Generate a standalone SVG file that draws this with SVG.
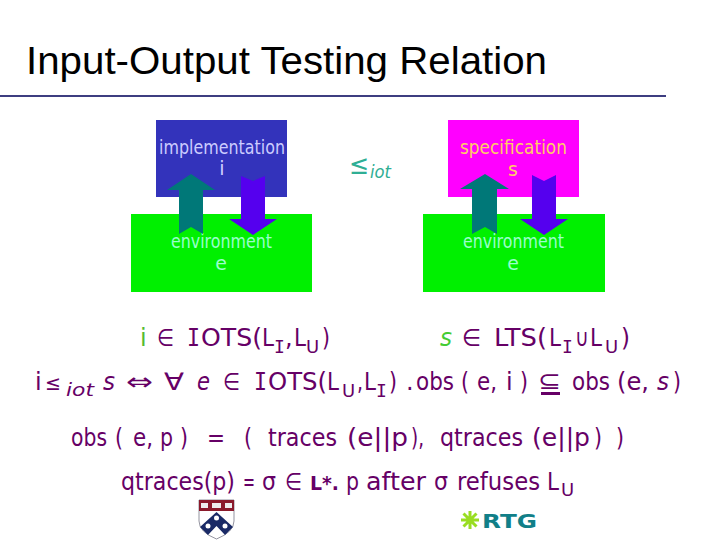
<svg xmlns="http://www.w3.org/2000/svg" width="720" height="540" viewBox="0 0 720 540">
<style>
text{font-family:"DejaVu Sans",sans-serif}
.t{fill:#660066;font-size:24px}
.s{font-size:18px;fill:#660066}
.mono{font-family:"DejaVu Sans Mono",monospace}
.i{font-style:italic}
.b{font-size:19px}
.up{fill:#007878}
.dn{fill:#5500ee}
</style>
<rect width="720" height="540" fill="#fff"/>
<text x="26" y="74" style="font-family:'Liberation Sans',sans-serif;font-size:38px;fill:#000" textLength="521" lengthAdjust="spacingAndGlyphs">Input-Output Testing Relation</text>
<rect x="0" y="95" width="666" height="2" fill="#3d3d80"/>
<g id="implementation">
<rect x="156" y="120" width="131" height="77" fill="#3333bb"/>
<text class="b" x="159" y="154" fill="#ccccff" textLength="126" lengthAdjust="spacingAndGlyphs">implementation</text>
<text class="b" x="222" y="175" text-anchor="middle" fill="#ccccff">i</text>
</g>
<g id="environment1">
<rect x="131" y="214" width="181" height="78" fill="#00f000"/>
<text class="b" x="171" y="248" fill="#99ffcc" textLength="101" lengthAdjust="spacingAndGlyphs">environment</text>
<text class="b" x="221" y="270" text-anchor="middle" fill="#99ffcc">e</text>
</g>
<g id="relation">
<text x="349" y="174" style="font-size:27px;fill:#2fae94" textLength="20" lengthAdjust="spacingAndGlyphs">≤</text>
<text x="370" y="178" class="i" style="font-size:18px;fill:#2fae94" textLength="21" lengthAdjust="spacingAndGlyphs">iot</text>
</g>
<g id="specification">
<rect x="448" y="120" width="131" height="77" fill="#ff00ff"/>
<text class="b" x="460" y="154" fill="#ffcc66" textLength="107" lengthAdjust="spacingAndGlyphs">specification</text>
<text class="b" x="513" y="176" text-anchor="middle" fill="#ffcc66">s</text>
</g>
<g id="environment2">
<rect x="423" y="214" width="182" height="78" fill="#00f000"/>
<text class="b" x="463" y="248" fill="#99ffcc" textLength="101" lengthAdjust="spacingAndGlyphs">environment</text>
<text class="b" x="513" y="270" text-anchor="middle" fill="#99ffcc">e</text>
</g>
<g id="connectors">
<polygon class="up" points="191,174 215,190 203,190 203,234 191,227 179,234 179,190 167,190"/>
<polygon class="dn" points="241,176 253,181 265,176 265,219 277,219 253,235 229,219 241,219"/>
<polygon class="up" points="485,174 509,189 497,189 497,234 485,227 472,234 472,189 460,189"/>
<polygon class="dn" points="532,175 544,181 556,175 556,219 568,219 544,235 520,219 532,219"/>
</g>
<g id="formulas">
<text x="140" y="346" style="font-size:24px;fill:#55bb33">i</text>
<text class="t" x="157" y="346" textLength="17" lengthAdjust="spacingAndGlyphs">∈</text>
<text class="t mono" x="187" y="346" textLength="13" lengthAdjust="spacingAndGlyphs">I</text>
<text class="t" x="201" y="346" textLength="61" lengthAdjust="spacingAndGlyphs">OTS(</text>
<text class="t" x="262" y="346" textLength="12" lengthAdjust="spacingAndGlyphs">L</text><text class="s mono" x="274" y="353">I</text>
<text class="t" x="285" y="346">,</text><text class="t" x="294" y="346" textLength="12" lengthAdjust="spacingAndGlyphs">L</text><text class="s" x="306" y="353">U</text>
<text class="t" x="322" y="346" textLength="8" lengthAdjust="spacingAndGlyphs">)</text>

<text class="i" x="440" y="346" style="font-size:24px;fill:#44cc33" textLength="12" lengthAdjust="spacingAndGlyphs">s</text>
<text class="t" x="462" y="346" textLength="19" lengthAdjust="spacingAndGlyphs">∈</text>
<text class="t" x="494" y="346" textLength="53" lengthAdjust="spacingAndGlyphs">LTS(</text>
<text class="t" x="549" y="346" textLength="12" lengthAdjust="spacingAndGlyphs">L</text><text class="s mono" x="562" y="353">I</text>
<text class="t" x="575" y="346" textLength="14" lengthAdjust="spacingAndGlyphs">∪</text>
<text class="t" x="590" y="346" textLength="12" lengthAdjust="spacingAndGlyphs">L</text><text class="s" x="605" y="353">U</text>
<text class="t" x="621" y="346" textLength="9" lengthAdjust="spacingAndGlyphs">)</text>

<text class="t" x="35" y="390">i</text>
<text class="t" x="45" y="390" style="font-size:20px" textLength="16" lengthAdjust="spacingAndGlyphs">≤</text>
<text class="s i" x="66" y="396" textLength="28" lengthAdjust="spacingAndGlyphs">iot</text>
<text class="t i" x="103" y="390" textLength="12" lengthAdjust="spacingAndGlyphs">s</text>
<text class="t" x="126" y="390" textLength="27" lengthAdjust="spacingAndGlyphs">⇔</text>
<text class="t" x="164" y="390" textLength="20" lengthAdjust="spacingAndGlyphs">∀</text>
<text class="t i" x="197" y="390" textLength="13" lengthAdjust="spacingAndGlyphs">e</text>
<text class="t" x="223" y="390" textLength="17" lengthAdjust="spacingAndGlyphs">∈</text>
<text class="t mono" x="254" y="390" textLength="13" lengthAdjust="spacingAndGlyphs">I</text>
<text class="t" x="268" y="390" textLength="59" lengthAdjust="spacingAndGlyphs">OTS(</text>
<text class="t" x="327" y="390" textLength="12" lengthAdjust="spacingAndGlyphs">L</text><text class="s" x="342" y="397">U</text>
<text class="t" x="357" y="390" textLength="6" lengthAdjust="spacingAndGlyphs">,</text><text class="t" x="364" y="390" textLength="12" lengthAdjust="spacingAndGlyphs">L</text><text class="s mono" x="376" y="397">I</text>
<text class="t" x="389" y="390" textLength="8" lengthAdjust="spacingAndGlyphs">)</text>
<text class="t" x="406" y="390">.</text>
<text class="t" x="416" y="390" textLength="38" lengthAdjust="spacingAndGlyphs">obs</text>
<text class="t" x="461" y="390" textLength="8" lengthAdjust="spacingAndGlyphs">(</text>
<text class="t" x="477" y="390" textLength="20" lengthAdjust="spacingAndGlyphs">e,</text>
<text class="t" x="506" y="390">i</text>
<text class="t" x="520" y="390" textLength="8" lengthAdjust="spacingAndGlyphs">)</text>
<text class="t" x="538" y="389" textLength="23" lengthAdjust="spacingAndGlyphs">⊆</text>
<rect x="541" y="392" width="19" height="3" fill="#660066"/>
<text class="t" x="572" y="390" textLength="38" lengthAdjust="spacingAndGlyphs">obs</text>
<text class="t" x="617" y="390" textLength="32" lengthAdjust="spacingAndGlyphs">(e,</text>
<text class="t i" x="657" y="390" textLength="12" lengthAdjust="spacingAndGlyphs">s</text>
<text class="t" x="673" y="390" textLength="8" lengthAdjust="spacingAndGlyphs">)</text>

<text class="t" x="71" y="446" textLength="36" lengthAdjust="spacingAndGlyphs">obs</text>
<text class="t" x="115" y="446" textLength="8" lengthAdjust="spacingAndGlyphs">(</text>
<text class="t" x="133" y="446" textLength="20" lengthAdjust="spacingAndGlyphs">e,</text>
<text class="t" x="160" y="446" textLength="13" lengthAdjust="spacingAndGlyphs">p</text>
<text class="t" x="180" y="446" textLength="8" lengthAdjust="spacingAndGlyphs">)</text>
<text class="t" x="207" y="446" textLength="18" lengthAdjust="spacingAndGlyphs">=</text>
<text class="t" x="244" y="446" textLength="8" lengthAdjust="spacingAndGlyphs">(</text>
<text class="t" x="268" y="446" textLength="69" lengthAdjust="spacingAndGlyphs">traces</text>
<text class="t" x="347" y="446" textLength="61" lengthAdjust="spacingAndGlyphs">(e||p</text>
<text class="t" x="411" y="446" textLength="13" lengthAdjust="spacingAndGlyphs">),</text>
<text class="t" x="440" y="446" textLength="83" lengthAdjust="spacingAndGlyphs">qtraces</text>
<text class="t" x="532" y="446" textLength="58" lengthAdjust="spacingAndGlyphs">(e||p</text>
<text class="t" x="594" y="446" textLength="8" lengthAdjust="spacingAndGlyphs">)</text>
<text class="t" x="616" y="446" textLength="8" lengthAdjust="spacingAndGlyphs">)</text>

<text class="t" x="121" y="490" textLength="114" lengthAdjust="spacingAndGlyphs">qtraces(p)</text>
<text class="t" x="243" y="490" textLength="12" lengthAdjust="spacingAndGlyphs">=</text>
<text class="t" x="262" y="490" textLength="14" lengthAdjust="spacingAndGlyphs">σ</text>
<text class="t" x="285" y="490" textLength="17" lengthAdjust="spacingAndGlyphs">∈</text>
<text class="t" x="310" y="490" style="font-size:20px;font-weight:bold" textLength="29" lengthAdjust="spacingAndGlyphs">L*.</text>
<text class="t" x="346" y="490" textLength="13" lengthAdjust="spacingAndGlyphs">p</text>
<text class="t" x="366" y="490" textLength="60" lengthAdjust="spacingAndGlyphs">after</text>
<text class="t" x="434" y="490" textLength="14" lengthAdjust="spacingAndGlyphs">σ</text>
<text class="t" x="457" y="490" textLength="83" lengthAdjust="spacingAndGlyphs">refuses</text>
<text class="t" x="547" y="490" textLength="12" lengthAdjust="spacingAndGlyphs">L</text><text class="s" x="561" y="496">U</text>
</g>
<g id="penn-logo">
<path d="M199,500H234V521Q234,532 216.500,539Q199,532 199,521Z" fill="#fff" stroke="#667" stroke-width=".7"/>
<rect x="199" y="500" width="35" height="11" fill="#8b1a2b"/>
<g fill="#eee"><rect x="201" y="503" width="7" height="5"/><rect x="212" y="503" width="9" height="5"/><rect x="225" y="503" width="7" height="5"/></g>
<path d="M216.500,512L200,527L208,535L216.500,526L225,535L233,527Z" fill="#1a2a66"/>
<g fill="#fff"><circle cx="216.500" cy="518" r="2.500"/><circle cx="208" cy="526" r="2.500"/><circle cx="225" cy="526" r="2.500"/></g>
</g>
<g id="rtg-logo">
<path d="M470,511V529M461,520H479M463.500,513.500L476.500,526.500M476.500,513.500L463.500,526.500" stroke="#99dd22" stroke-width="3"/>
<text x="482" y="528" style="font-weight:bold;font-size:19px;fill:#117f88" textLength="55" lengthAdjust="spacingAndGlyphs">RTG</text>
</g>
</svg>
